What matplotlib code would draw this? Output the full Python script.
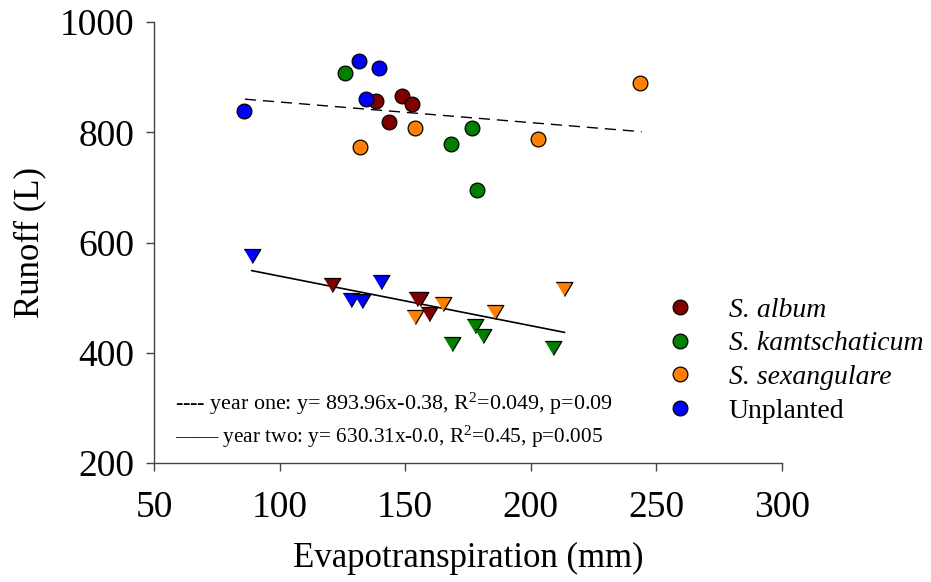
import matplotlib
matplotlib.use("Agg")
import matplotlib.pyplot as plt
import numpy as np

plt.rcParams['font.family'] = ['Liberation Serif', 'DejaVu Serif']
plt.rcParams['mathtext.fontset'] = 'custom'
plt.rcParams['mathtext.rm'] = 'Liberation Serif'
plt.rcParams['mathtext.it'] = 'Liberation Serif:italic'

# ---- data: year one (circles) ----
y1_album_x = [138.5, 148.7, 152.8, 143.4]
y1_album_y = [856, 865, 851, 818]
y1_kamt_x = [126.0, 168.2, 176.4, 178.6]
y1_kamt_y = [908, 779, 807, 696]
y1_sex_x = [131.9, 153.9, 203.0, 243.5]
y1_sex_y = [773, 808, 788, 889]
y1_unpl_x = [85.9, 131.5, 139.6, 134.5]
y1_unpl_y = [839, 929, 917, 860]

# ---- data: year two (triangles) ----
y2_album_x = [120.7, 154.5, 156.0, 159.3]
y2_album_y = [523, 497, 498, 471]
y2_kamt_x = [177.8, 180.8, 168.5, 208.7]
y2_kamt_y = [448, 430, 415, 409]
y2_sex_x = [154.0, 165.2, 185.7, 213.4]
y2_sex_y = [465, 488, 474, 516]
y2_unpl_x = [88.9, 140.2, 128.4, 132.7]
y2_unpl_y = [575, 528, 496, 494]

# regression line endpoints
fit1_x = [86.2, 244.1]
fit1_y = [860, 801]
fit2_x = [88.9, 213.4]
fit2_y = [549, 437]

species = ['S. album', 'S. kamtschaticum', 'S. sexangulare', 'Unplanted']
italic = [True, True, True, False]
colors = ['#800000', '#008000', '#ff8000', '#0000ff']

year1 = [(y1_album_x, y1_album_y), (y1_kamt_x, y1_kamt_y),
         (y1_sex_x, y1_sex_y), (y1_unpl_x, y1_unpl_y)]
year2 = [(y2_album_x, y2_album_y), (y2_kamt_x, y2_kamt_y),
         (y2_sex_x, y2_sex_y), (y2_unpl_x, y2_unpl_y)]

fig = plt.figure(figsize=(9.31, 5.82), dpi=100)
ax = fig.add_axes([154/931, 1-463/582, (782-154)/931, (463-22)/582])

tri = [(-1, 0.84), (1, 0.84), (0, -0.84)]

ax.plot(fit1_x, fit1_y, color='black', lw=1.0, dashes=(8, 5), zorder=2)
ax.plot(fit2_x, fit2_y, color='black', lw=1.2, zorder=2)

for (x, y), c in zip(year1, colors):
    ax.plot(x, y, 'o', ms=10.6, mfc=c, mec='black', mew=0.9, ls='none', zorder=3)
for (x, y), c in zip(year2, colors):
    ax.plot(x, y, marker=tri, ms=12, mfc=c, mec='black', mew=0.9, ls='none', zorder=3)

ax.set_xlim(50, 300)
ax.set_ylim(200, 1000)
ax.set_xticks([50, 100, 150, 200, 250, 300])
ax.set_yticks([200, 400, 600, 800, 1000])
for s in ['top', 'right']:
    ax.spines[s].set_visible(False)
for s in ['left', 'bottom']:
    ax.spines[s].set_color('#444444')
    ax.spines[s].set_linewidth(1.0)
ax.tick_params(direction='out', length=6, width=1.0, colors='#444444',
               labelcolor='black', labelsize=27, pad=8)
ax.tick_params(axis='x', pad=14)
ax.set_xlabel('Evapotranspiration (mm)', fontsize=25, labelpad=12)
ax.set_ylabel('Runoff (L)', fontsize=25, labelpad=10)

handles = [plt.Line2D([], [], marker='o', ls='none', ms=10.6, mfc=c, mec='black', mew=0.9)
           for c in colors]
leg = fig.legend(handles, species, loc='upper left', bbox_to_anchor=(655/931, 1-286/582),
                 frameon=False, fontsize=20, handletextpad=1.25, labelspacing=0.3,
                 borderaxespad=0, handlelength=1.0)
for t, it in zip(leg.get_texts(), italic):
    if it:
        t.set_fontstyle('italic')

fig.text(175/931, 1-404/582, '---- year one: y= 893.96x-0.38, R$^2$=0.049, p=0.09',
         fontsize=15.8, va='center', ha='left')
fig.text(175/931, 1-437/582, '—— year two: y= 630.31x-0.0, R$^2$=0.45, p=0.005',
         fontsize=15.3, va='center', ha='left')

fig.savefig('out.png', dpi=100)
